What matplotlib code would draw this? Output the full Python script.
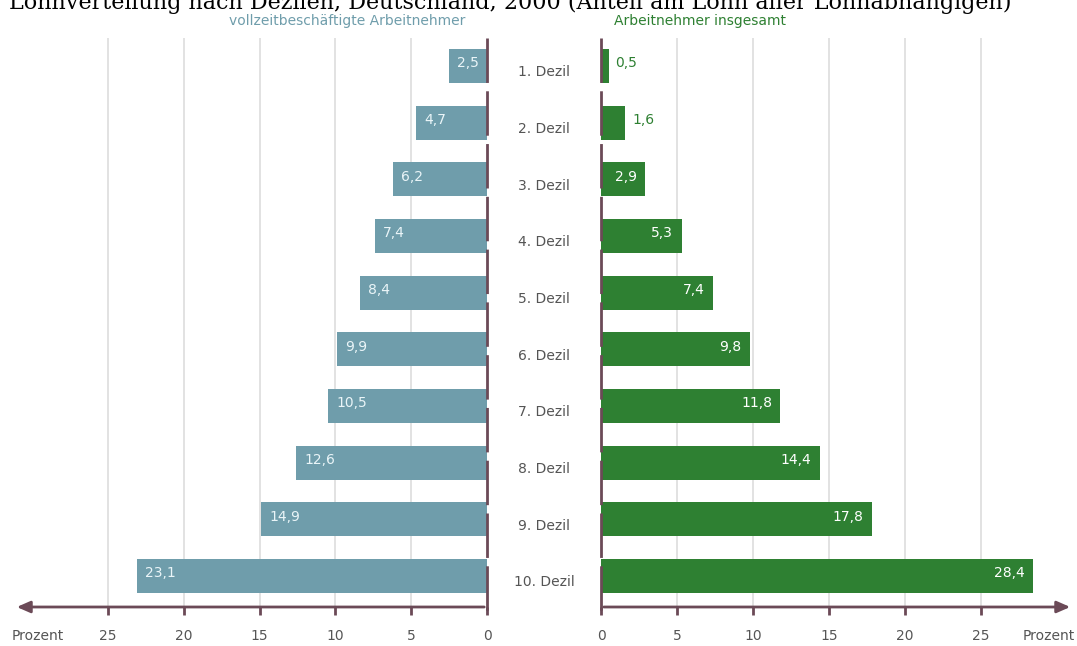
import matplotlib
matplotlib.use('Agg')
import matplotlib.pyplot as plt

# Anteile in Prozent je Dezil
dezile = ['1. Dezil', '2. Dezil', '3. Dezil', '4. Dezil', '5. Dezil',
          '6. Dezil', '7. Dezil', '8. Dezil', '9. Dezil', '10. Dezil']
vollzeit = [2.5, 4.7, 6.2, 7.4, 8.4, 9.9, 10.5, 12.6, 14.9, 23.1]
insgesamt = [0.5, 1.6, 2.9, 5.3, 7.4, 9.8, 11.8, 14.4, 17.8, 28.4]
ticks = [0, 5, 10, 15, 20, 25]

blue = '#6f9dab'
green = '#2e8032'
axcol = '#6b4a57'
grid = '#dddddd'
txtcol = '#555555'

W, H = 1077, 646
fig = plt.figure(figsize=(W / 100, H / 100), dpi=100)

top_px, bot_px = 38, 607
rows = list(range(len(dezile)))
ylo = 9 + (bot_px - 576) / 56.7
yhi = -(66 - top_px) / 56.7


def make_ax(x0, x1, xlim):
    ax = fig.add_axes([x0 / W, 1 - bot_px / H, (x1 - x0) / W, (bot_px - top_px) / H])
    ax.set_xlim(*xlim)
    ax.set_ylim(ylo, yhi)
    for s in ax.spines.values():
        s.set_visible(False)
    ax.set_yticks([])
    ax.set_xticks(ticks)
    ax.set_xticklabels([str(t) for t in ticks], color=txtcol, fontsize=10)
    ax.tick_params(axis='x', direction='out', length=6, width=2, color=axcol, pad=10)
    for t in ticks[1:]:
        ax.axvline(t, color=grid, lw=1.2, zorder=0)
    return ax


axl = make_ax(14, 487, (31.2, 0))
axr = make_ax(601, 1073, (0, 31.05))

axl.barh(rows, vollzeit, height=0.6, color=blue, zorder=2)
axr.barh(rows, insgesamt, height=0.6, color=green, zorder=2)

for i, v in enumerate(vollzeit):
    axl.annotate(f'{v:.1f}'.replace('.', ','), (v, i), xytext=(6, 2), textcoords='offset points',
                 ha='left', va='center', color='#eaf5f8', fontsize=10, zorder=3)
for i, v in enumerate(insgesamt):
    lab = f'{v:.1f}'.replace('.', ',')
    if v >= 2.5:
        axr.annotate(lab, (v, i), xytext=(-6, 2), textcoords='offset points',
                     ha='right', va='center', color='white', fontsize=10, zorder=3)
    else:
        axr.annotate(lab, (v, i), xytext=(5, 2), textcoords='offset points',
                     ha='left', va='center', color=green, fontsize=10, zorder=3)

# Achsen mit Pfeilen
for ax, xmax in ((axl, 31.2), (axr, 31.05)):
    ax.annotate('', xy=(xmax, ylo), xytext=(0, ylo), xycoords='data',
                arrowprops=dict(arrowstyle='-|>,head_length=0.8,head_width=0.35', color=axcol, lw=2),
                annotation_clip=False)
    # gestrichelte Mittellinie
    ax.plot([0, 0], [yhi, ylo + 0.1], color=axcol, lw=2, dashes=(16, 3), clip_on=False, zorder=4)

tr = matplotlib.transforms.blended_transform_factory(fig.transFigure, axr.transData)
for i, d in enumerate(dezile):
    axr.text(544 / W, i + 0.11, d, transform=tr, ha='center', va='center', fontsize=10, color=txtcol)

fig.text(12 / W, 1 - 636 / H, 'Prozent', ha='left', va='center', fontsize=10, color=txtcol)
fig.text(1075 / W, 1 - 636 / H, 'Prozent', ha='right', va='center', fontsize=10, color=txtcol)

fig.text(347 / W, 1 - 21 / H, 'vollzeitbeschäftigte Arbeitnehmer', ha='center', va='center',
         fontsize=10, color=blue)
fig.text(700 / W, 1 - 21 / H, 'Arbeitnehmer insgesamt', ha='center', va='center',
         fontsize=10, color=green)

# abgeschnittene Überschrift (im Original nur unten sichtbar)
fig.text(510 / W, 1 - 9 / H, 'Lohnverteilung nach Dezilen, Deutschland, 2000 (Anteil am Lohn aller Lohnabhängigen)',
         ha='center', va='baseline', fontsize=16, family='serif', color='black')

fig.savefig('out.png', dpi=100)
